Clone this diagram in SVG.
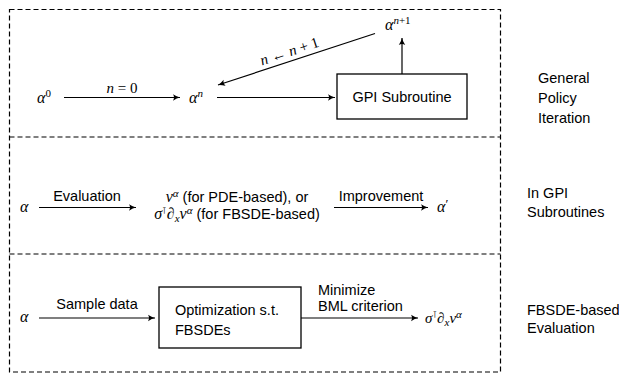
<svg xmlns="http://www.w3.org/2000/svg" width="619" height="377" viewBox="0 0 619 377">
  <style>
    .frame { fill: none; stroke: #000; stroke-width: 1.2; stroke-dasharray: 5 3; }
    .box { fill: #fff; stroke: #000; stroke-width: 1.3; }
    .edge { fill: none; stroke: #000; stroke-width: 1.2; marker-end: url(#arr); }
    .txt { font-family: "Liberation Sans", "DejaVu Sans", sans-serif; font-size: 14.5px; fill: #000; }
    .math { font-family: "Liberation Serif", "DejaVu Serif", serif; font-style: italic; fill: #000; }
    .rom { font-style: normal; }
    .tp { font-family: "DejaVu Sans", sans-serif; font-style: normal; }
  </style>
  <defs>
    <marker id="arr" viewBox="-8 -4 9 8" markerWidth="9" markerHeight="8" refX="0" refY="0" orient="auto" markerUnits="userSpaceOnUse">
      <path d="M -7,-3.2 Q -3,-0.6 0,0 Q -3,0.6 -7,3.2 Q -5,0 -7,-3.2 Z" fill="#000"/>
    </marker>
  </defs>

  <!-- dashed section frames -->
  <g id="frames">
    <rect class="frame" x="9.5" y="9.5" width="491" height="362.5"/>
    <line class="frame" x1="9.5" y1="137" x2="500.5" y2="137"/>
    <line class="frame" x1="9.5" y1="254" x2="500.5" y2="254"/>
  </g>

  <!-- section 1: general policy iteration -->
  <g id="alpha0">
    <text class="math" x="37" y="103" font-size="16">α<tspan class="rom" font-size="11" dy="-6">0</tspan></text>
  </g>
  <g id="alphan">
    <text class="math" x="189" y="103" font-size="16">α<tspan font-size="11" dy="-6">n</tspan></text>
  </g>
  <g id="gpi">
    <rect class="box" x="337" y="74" width="130" height="45"/>
    <text class="txt" x="402" y="102" text-anchor="middle">GPI Subroutine</text>
  </g>
  <g id="alphan1">
    <text class="math" x="385" y="30" font-size="16">α<tspan font-size="11" dy="-6">n</tspan><tspan class="rom" font-size="11">+1</tspan></text>
  </g>

  <!-- section 2: inside the subroutine -->
  <g id="alpha-mid">
    <text class="math" x="20" y="212" font-size="16">α</text>
  </g>
  <g id="value">
    <text class="txt" x="237" y="202" text-anchor="middle" font-size="15.5"><tspan class="math" font-size="16">v</tspan><tspan class="math" font-size="11" dy="-5">α</tspan><tspan dy="5"> (for PDE-based), or</tspan></text>
    <text class="txt" x="237" y="219" text-anchor="middle" font-size="15.5"><tspan class="math" font-size="16">σ</tspan><tspan class="tp" font-size="9" dy="-5">⊺</tspan><tspan class="math" font-size="16" dy="5">∂</tspan><tspan class="math" font-size="11" dy="3">x</tspan><tspan class="math" font-size="16" dy="-3">v</tspan><tspan class="math" font-size="11" dy="-5">α</tspan><tspan dy="5"> (for FBSDE-based)</tspan></text>
  </g>
  <g id="alpha-prime">
    <text class="math" x="437" y="212" font-size="16">α<tspan class="rom" font-size="13" dy="-4">′</tspan></text>
  </g>

  <!-- section 3: FBSDE-based evaluation -->
  <g id="alpha-bot">
    <text class="math" x="20" y="322" font-size="16">α</text>
  </g>
  <g id="opt">
    <rect class="box" x="159" y="287" width="142" height="61"/>
    <text class="txt" x="175" y="315">Optimization s.t.</text>
    <text class="txt" x="175" y="335">FBSDEs</text>
  </g>
  <g id="grad">
    <text class="math" x="425" y="323" font-size="15">σ<tspan class="tp" font-size="9" dy="-5">⊺</tspan><tspan dy="5">∂</tspan><tspan font-size="11" dy="3">x</tspan><tspan dy="-3">v</tspan><tspan font-size="11" dy="-5">α</tspan></text>
  </g>

  <!-- connectors -->
  <g id="connectors">
    <line class="edge" x1="64" y1="97.5" x2="180" y2="97.5"/>
    <line class="edge" x1="217" y1="97.5" x2="335" y2="97.5"/>
    <line class="edge" x1="402" y1="74" x2="402" y2="38"/>
    <line class="edge" x1="375" y1="33.5" x2="218" y2="85"/>
    <line class="edge" x1="39" y1="207.5" x2="136" y2="207.5"/>
    <line class="edge" x1="334" y1="207.5" x2="428" y2="207.5"/>
    <line class="edge" x1="39" y1="318" x2="155" y2="318"/>
    <line class="edge" x1="301" y1="318" x2="418" y2="318"/>
  </g>

  <!-- connector labels -->
  <g id="edge-labels">
    <text class="math" x="122" y="93" text-anchor="middle" font-size="15">n<tspan class="rom"> = 0</tspan></text>
    <text class="math" transform="translate(291,56) rotate(-18.2)" text-anchor="middle" font-size="15">n<tspan class="rom"> ← </tspan>n<tspan class="rom"> + 1</tspan></text>
    <text class="txt" x="87" y="201" text-anchor="middle">Evaluation</text>
    <text class="txt" x="381" y="201" text-anchor="middle">Improvement</text>
    <text class="txt" x="97" y="309" text-anchor="middle">Sample data</text>
    <text class="txt" x="318" y="295">Minimize</text>
    <text class="txt" x="318" y="311">BML criterion</text>
  </g>

  <!-- section titles -->
  <g id="titles">
    <text class="txt" x="538" y="83">General</text>
    <text class="txt" x="538" y="103">Policy</text>
    <text class="txt" x="538" y="123">Iteration</text>
    <text class="txt" x="527" y="198">In GPI</text>
    <text class="txt" x="527" y="217">Subroutines</text>
    <text class="txt" x="527" y="315" font-size="13.5">FBSDE-based</text>
    <text class="txt" x="527" y="333">Evaluation</text>
  </g>
</svg>
